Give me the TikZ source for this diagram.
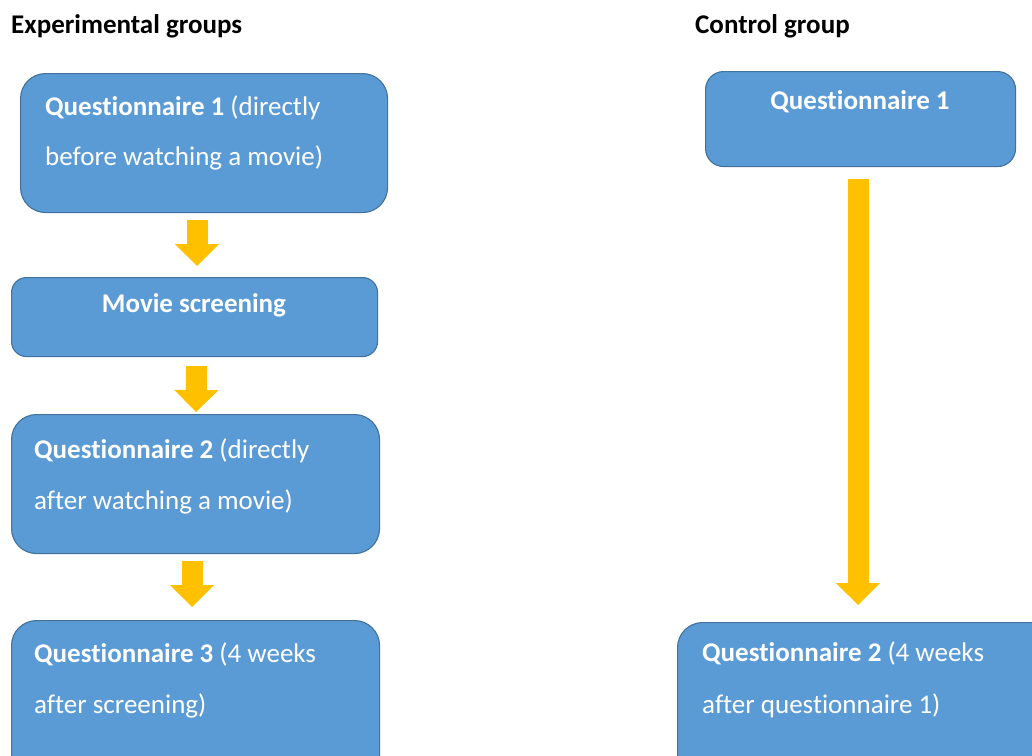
\documentclass[tikz,border=0pt]{standalone}
\usepackage{fontspec}
\setmainfont{Carlito}[Ligatures=NoCommon]
\usetikzlibrary{arrows.meta,calc}
\definecolor{boxblue}{HTML}{5B9BD5}
\definecolor{boxedge}{HTML}{41719C}
\definecolor{arrowgold}{HTML}{FFC000}
\begin{document}
\begin{tikzpicture}[x=1pt,y=-1pt,
  box/.style={draw=boxedge, line width=1.1pt, fill=boxblue, rounded corners=#1,
    inner sep=0pt, anchor=north west},
  boxtext/.style={text=white, inner sep=0pt, anchor=base west, font=\fontsize{27}{31}\selectfont},
  title/.style={text=black, inner sep=0pt, anchor=base west, font=\fontsize{27}{31}\selectfont\bfseries},
  fatarrow/.style={draw=arrowgold, line width=21pt,
    -{Triangle[length=22pt,width=43pt,fill=arrowgold]}}
]
\useasboundingbox (0,0) rectangle (1032,755);
\clip (0,0) rectangle (1032,755);

% titles
\node[title] (t1) at (11,33) {Experimental groups};
\node[title] (t2) at (695,33) {Control group};

% left column boxes
\node[box=25, minimum width=367pt, minimum height=139pt] (b1) at (20,73) {};
\node[box=15, minimum width=366pt, minimum height=79pt] (b2) at (11,277) {};
\node[box=25, minimum width=368pt, minimum height=139pt] (b3) at (11,414) {};
\node[box=25, minimum width=368pt, minimum height=170pt] (b4) at (11,620) {};

% right column boxes
\node[box=18, minimum width=310pt, minimum height=95pt] (r1) at (705,71) {};
\node[box=25, minimum width=380pt, minimum height=170pt] (r2) at (677,622) {};

% texts
\node[boxtext] (b1a) at (45,115) {\textbf{Questionnaire 1} (directly};
\node[boxtext] (b1b) at (45,165) {before watching a movie)};
\node[boxtext, anchor=base] (b2a) at (194,312) {\textbf{Movie screening}};
\node[boxtext] (b3a) at (34,458) {\textbf{Questionnaire 2} (directly};
\node[boxtext] (b3b) at (34,509) {after watching a movie)};
\node[boxtext] (b4a) at (34,662) {\textbf{Questionnaire 3} (4 weeks};
\node[boxtext] (b4b) at (34,713) {after screening)};
\node[boxtext, anchor=base] (r1a) at (860,109) {\textbf{Questionnaire 1}};
\node[boxtext] (r2a) at (702,661) {\textbf{Questionnaire 2} (4 weeks};
\node[boxtext] (r2b) at (702,713) {after questionnaire 1)};

% arrows
\draw[fatarrow] ($(b1.south)+(-7,7)$) -- ($(b2.north)+(2.5,-11)$);
\draw[fatarrow] ($(b2.south)+(2,9)$) -- ($(b3.north)+(0.5,-2)$);
\draw[fatarrow] ($(b3.south)+(-3.5,7)$) -- ($(b4.north)+(-3.5,-13)$);
\draw[fatarrow] ($(r1.south)+(-2.5,12)$) -- ($(r2.north)+(-9.5,-17)$);
\end{tikzpicture}
\end{document}
